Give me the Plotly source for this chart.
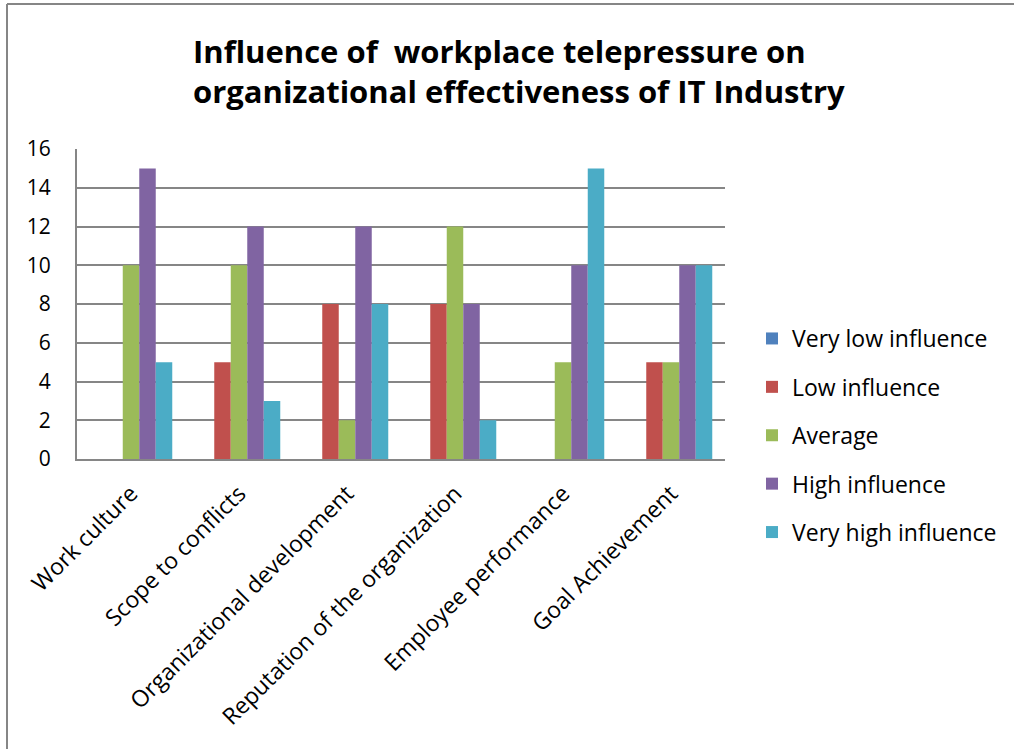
import plotly.graph_objects as go

categories = [
    "Work culture",
    "Scope to conflicts",
    "Organizational development",
    "Reputation of the organization",
    "Employee performance",
    "Goal Achievement",
]
series_names = ["Very low influence", "Low influence", "Average", "High influence", "Very high influence"]
very_low = [0, 0, 0, 0, 0, 0]
low = [0, 5, 8, 8, 0, 5]
average = [10, 10, 2, 12, 5, 5]
high = [15, 12, 12, 8, 10, 10]
very_high = [5, 3, 8, 2, 15, 10]
y_ticks = [0, 2, 4, 6, 8, 10, 12, 14, 16]

colors = ["#4F81BD", "#C0504D", "#9BBB59", "#8064A2", "#4BACC6"]
values = [very_low, low, average, high, very_high]

FONT = "Open Sans"

fig = go.Figure()
for name, vals, col in zip(series_names, values, colors):
    fig.add_trace(go.Bar(
        x=categories, y=vals, name=name, legendgroup=name,
        marker=dict(color=col, line=dict(width=0)),
    ))

# plot-area geometry in pixels
W, H = 1014, 749
L, R, T, B = 77, 289, 149, 290
pw, ph = W - L - R, H - T - B

fig.update_layout(
    width=W, height=H,
    margin=dict(l=L, r=R, t=T, b=B),
    paper_bgcolor="white", plot_bgcolor="white",
    barmode="group", bargap=0.236, bargroupgap=0,
    font=dict(family=FONT, color="black"),
    title=dict(
        text="Influence of  workplace telepressure on<br>organizational effectiveness of IT Industry",
        x=(193 - L) / pw, xref="paper", xanchor="left",
        y=1 - 63 / H, yanchor="middle",
        font=dict(family=FONT, size=31, color="black", weight="bold"),
    ),
    legend=dict(
        x=(752 - L) / pw, xanchor="left",
        y=(459 - 317) / ph, yanchor="top",
        font=dict(family=FONT, size=23, color="black"),
        tracegroupgap=15.5, itemwidth=30,
        bgcolor="rgba(0,0,0,0)",
    ),
    showlegend=True,
)
fig.update_xaxes(
    showgrid=False, showline=True, linecolor="#868686", linewidth=2,
    tickangle=-45, tickfont=dict(family=FONT, size=23, color="black"),
    ticks="", ticklabelstandoff=10,
)
fig.update_yaxes(
    range=[0, 16], tickvals=y_ticks, showgrid=True, gridcolor="#868686", gridwidth=2,
    showline=True, linecolor="#868686", linewidth=2, zeroline=False,
    tickfont=dict(family=FONT, size=21, color="black"), ticks="",
    ticklabelstandoff=20,
)

# outer chart border (top and left edges)
fig.add_shape(type="line", xref="paper", yref="paper",
              x0=(7 - L) / pw, x1=(W - L) / pw, y0=(H - B - 4) / ph, y1=(H - B - 4) / ph,
              line=dict(color="#868686", width=2))
fig.add_shape(type="line", xref="paper", yref="paper",
              x0=(7 - L) / pw, x1=(7 - L) / pw, y0=(H - B - 4) / ph, y1=(H - B - H - 5) / ph,
              line=dict(color="#868686", width=2))

fig.write_html("out.html")
